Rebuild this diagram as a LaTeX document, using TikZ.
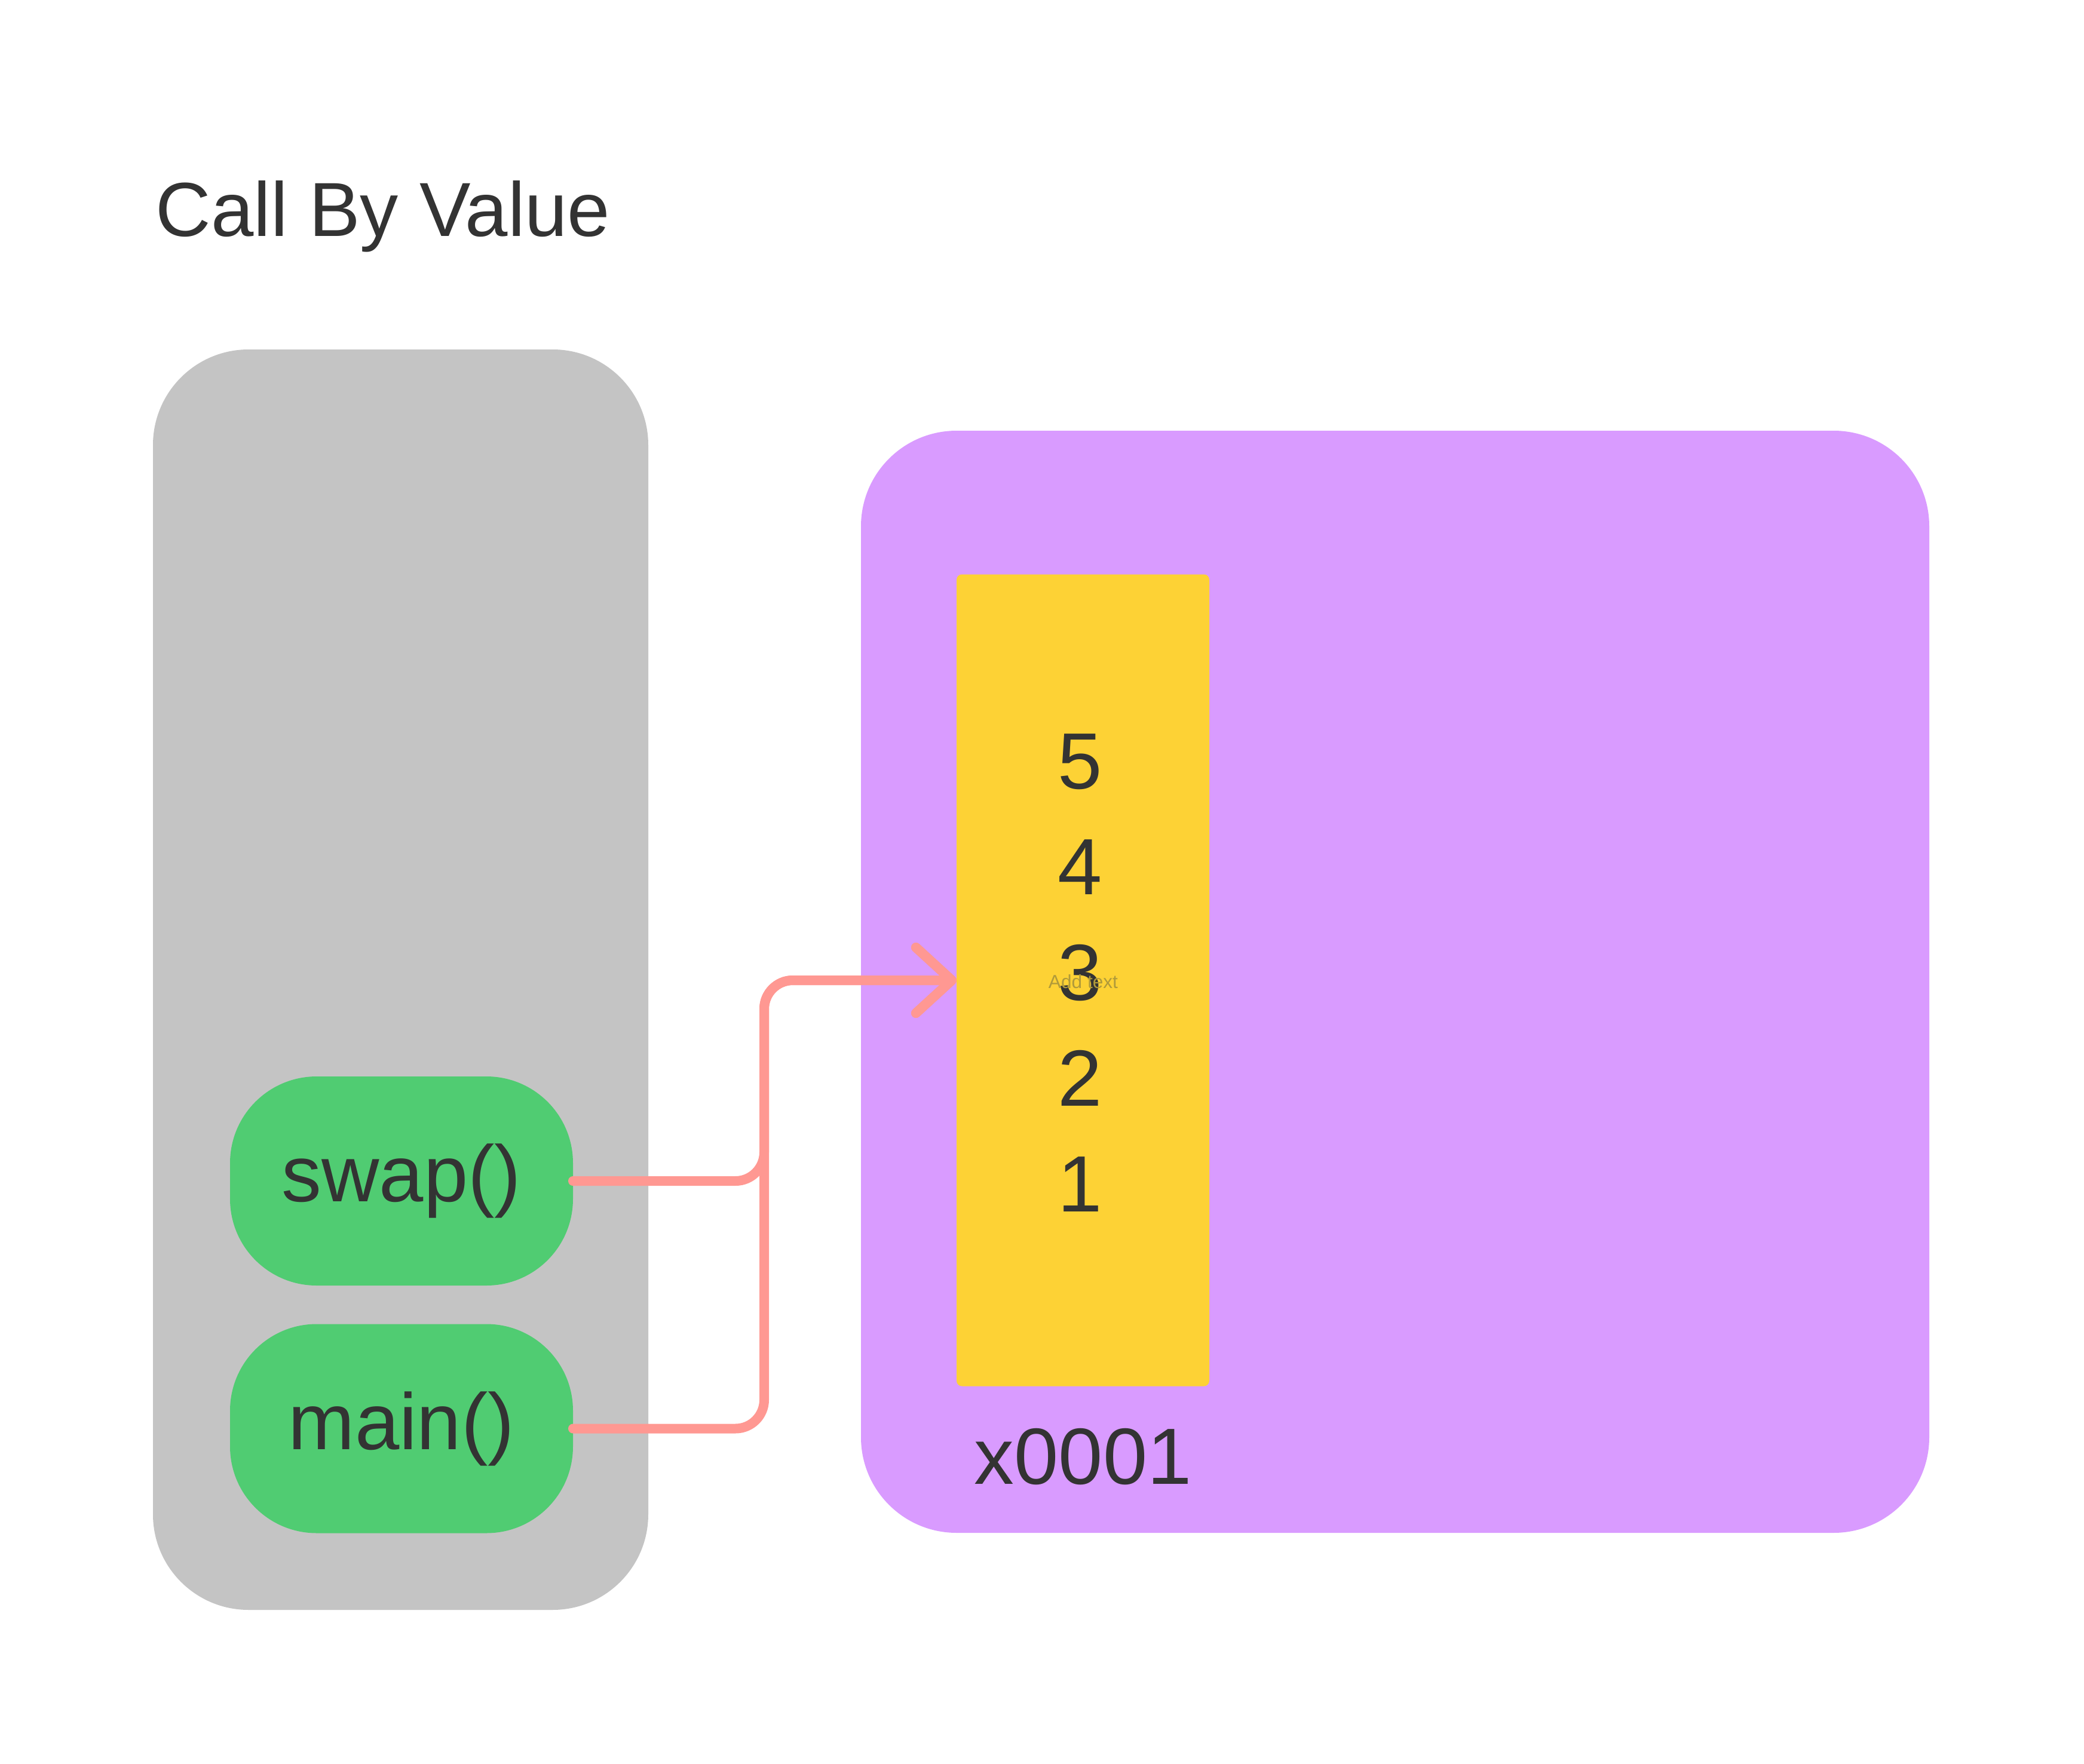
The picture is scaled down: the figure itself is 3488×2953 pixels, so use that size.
\documentclass[tikz,border=0pt]{standalone}
\usepackage{fontspec}
\setmainfont{Liberation Sans}
\usetikzlibrary{arrows.meta}
\definecolor{greybg}{HTML}{C4C4C4}
\definecolor{purplebg}{HTML}{D99BFF}
\definecolor{yellowbg}{HTML}{FDD235}
\definecolor{greenbg}{HTML}{50CC72}
\definecolor{conncol}{HTML}{FF9892}
\definecolor{txt}{HTML}{333333}
\definecolor{hint}{HTML}{B09A3A}
\begin{document}
\begin{tikzpicture}[x=0.1mm,y=-0.1mm,
  box/.style={inner sep=0pt, outer sep=0pt, draw=none},
  big/.style={font=\fontsize{38pt}{44pt}\selectfont, text=txt, inner sep=0pt},
  conn/.style={draw=conncol, line width=1.6mm, line cap=round, line join=round,
    rounded corners=4.8mm, -{Straight Barb[length=6mm,width=11mm,round]}}]
\useasboundingbox (0,0) rectangle (3488,2953);
\fill[white] (0,0) rectangle (3488,2953);
% containers
\node[box, fill=greybg, rounded corners=16mm, minimum width=82.9mm, minimum height=211mm] (stack) at (670.5,1640) {};
\node[box, fill=purplebg, rounded corners=16mm, minimum width=178.8mm, minimum height=184.5mm] (heap) at (2335,1643.5) {};
\node[box, fill=yellowbg, rounded corners=0.9mm, minimum width=42.3mm, minimum height=135.9mm] (yellow) at (1812.5,1641) {};
% frames
\node[box, big, fill=greenbg, rounded corners=14.5mm, minimum width=57.4mm, minimum height=35mm] (swap) at (672,1977) {swap()};
\node[box, big, fill=greenbg, rounded corners=14.5mm, minimum width=57.4mm, minimum height=35mm] (main) at (672,2391.5) {main()};
% title
\node[font=\fontsize{36.5pt}{44pt}\selectfont, text=txt, anchor=base west, inner sep=0pt] (title) at (260,395) {Call By Value};
% values
\node[big, anchor=base] (n5) at (1808,1320) {5};
\node[big, anchor=base] (n4) at (1808,1497) {4};
\node[big, anchor=base] (n3) at (1808,1674) {3};
\node[big, anchor=base] (n2) at (1808,1851) {2};
\node[big, anchor=base] (n1) at (1808,2028) {1};
\node[font=\fontsize{9pt}{10pt}\selectfont, text=hint, inner sep=0pt] (hinttext) at (1813,1643) {Add text};
\node[big, anchor=base west] (addr) at (1630,2484) {x0001};
% connectors
\coordinate (jx) at (1279,0);
\draw[conn] (main.east) -- (main.east -| jx) -- (jx |- yellow.west) -- (yellow.west);
\draw[conn] (swap.east) -- (swap.east -| jx) -- (jx |- yellow.west) -- (yellow.west);
\end{tikzpicture}
\end{document}
